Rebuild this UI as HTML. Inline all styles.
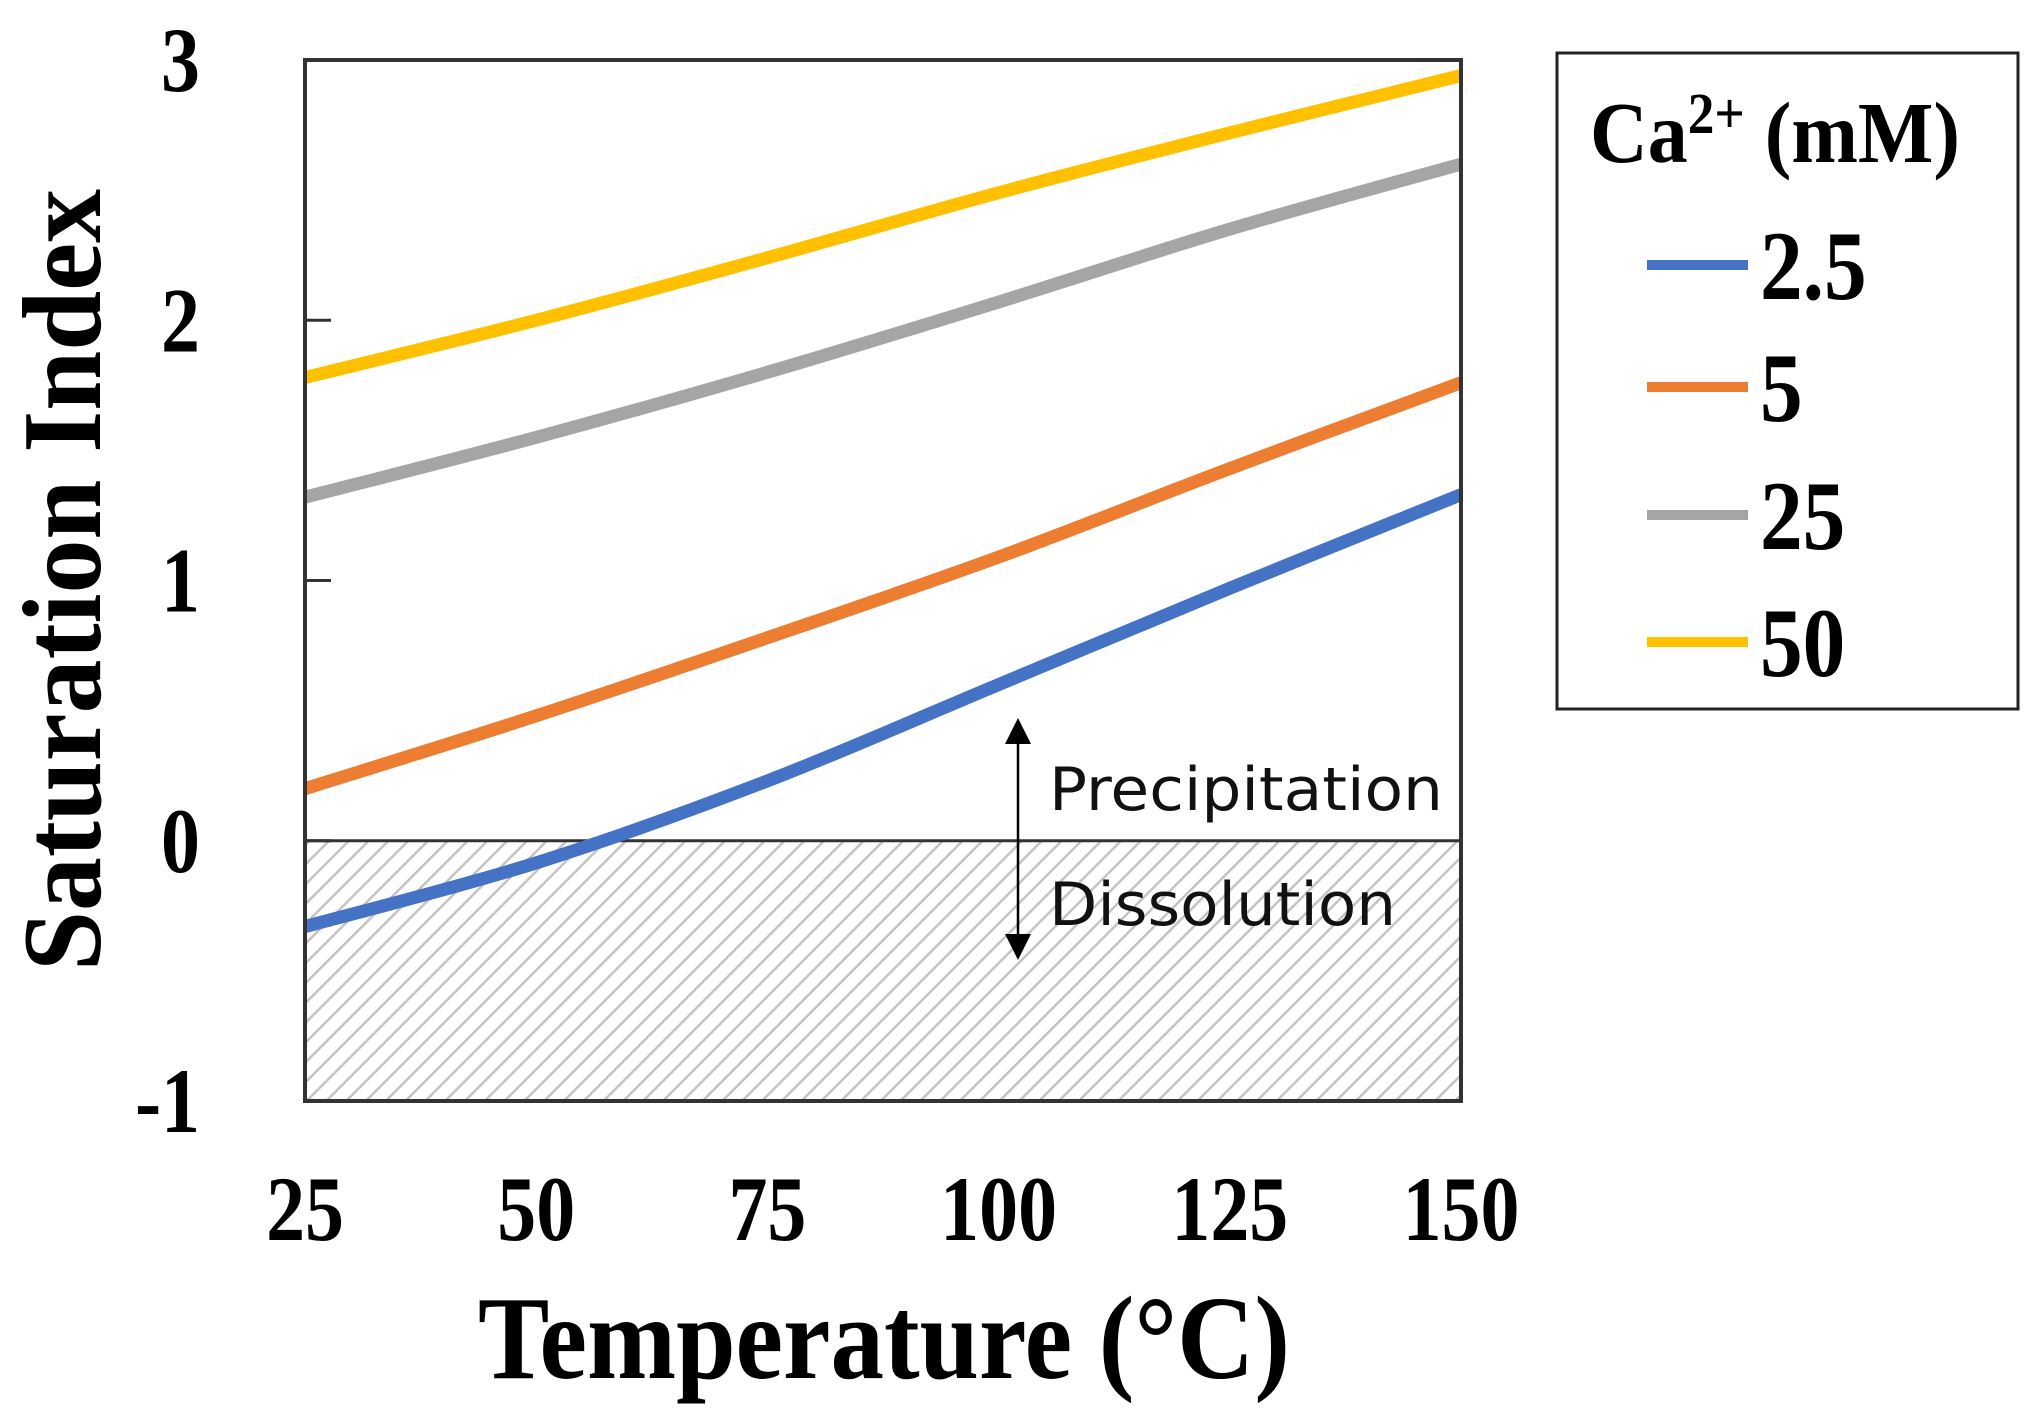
<!DOCTYPE html>
<html><head><meta charset="utf-8"><style>
html,body{margin:0;padding:0;background:#fff;}
svg{display:block;}
</style></head><body>
<svg id="chart" width="2043" height="1420" viewBox="0 0 2043 1420" xmlns="http://www.w3.org/2000/svg">
<defs>
<pattern id="hatch" patternUnits="userSpaceOnUse" width="14" height="14" patternTransform="rotate(45)">
<rect width="14" height="14" fill="#fff"/>
<line x1="0" y1="0" x2="0" y2="14" stroke="#c4c4c4" stroke-width="5"/>
</pattern>
</defs>
<g id="plot"></g>
</svg>
<script>
const xValues = [25, 50, 75, 100, 125, 150];
const seriesNames = ["2.5", "5", "25", "50"];
const seriesBlue = [-0.33, -0.085, 0.23, 0.60, 0.97, 1.33];
const seriesOrange = [0.20, 0.48, 0.78, 1.09, 1.43, 1.76];
const seriesGray = [1.32, 1.55, 1.80, 2.07, 2.35, 2.60];
const seriesYellow = [1.78, 2.00, 2.24, 2.49, 2.72, 2.94];
const xTicks = [25, 50, 75, 100, 125, 150];
const yTicks = [-1, 0, 1, 2, 3];

const NS = "http://www.w3.org/2000/svg";
const L = 305, R = 1461, T = 60, B = 1101;
const xMin = 25, xMax = 150, yMin = -1, yMax = 3;
function xs(v){ return L + (v - xMin) / (xMax - xMin) * (R - L); }
function ys(v){ return B - (v - yMin) / (yMax - yMin) * (B - T); }
const g = document.getElementById('plot');
function el(tag, attrs, parent){
  const e = document.createElementNS(NS, tag);
  for (const k in attrs) e.setAttribute(k, attrs[k]);
  (parent || g).appendChild(e);
  return e;
}

const hatch = el('rect', {x: L, y: ys(0), width: R - L, height: ys(yMin) - ys(0), fill: 'url(#hatch)'});



const zl = el('line', {x1: L, x2: R, y1: ys(0), y2: ys(0), stroke: '#333', 'stroke-width': 3});



function smoothPath(xv, yv){
  const p = xv.map((x, i) => [xs(x), ys(yv[i])]);
  let d = 'M' + p[0][0] + ',' + p[0][1];
  for (let i = 0; i < p.length - 1; i++){
    const p0 = p[i - 1] || p[i], p1 = p[i], p2 = p[i + 1], p3 = p[i + 2] || p2;
    const c1 = [p1[0] + (p2[0] - p0[0]) / 6, p1[1] + (p2[1] - p0[1]) / 6];
    const c2 = [p2[0] - (p3[0] - p1[0]) / 6, p2[1] - (p3[1] - p1[1]) / 6];
    d += ' C' + c1 + ' ' + c2 + ' ' + p2;
  }
  return d;
}
const allSeries = [seriesBlue, seriesOrange, seriesGray, seriesYellow];
const colors = ['#4472C4', '#ED7D31', '#A5A5A5', '#FFC000'];
const lineNames = ['line-2-5mm', 'line-5mm', 'line-25mm', 'line-50mm'];
allSeries.forEach((s, i) => {
  const p = el('path', {d: smoothPath(xValues, s), fill: 'none', stroke: colors[i], 'stroke-width': 13, 'stroke-linecap': 'butt'});
  
  
});

const frame = el('rect', {x: L, y: T, width: R - L, height: B - T, fill: 'none', stroke: '#333', 'stroke-width': 4});



const arr = el('line', {x1: 1018, x2: 1018, y1: 735, y2: 945, stroke: '#000', 'stroke-width': 2.5});


el('polygon', {points: '1018,718 1005,744 1031,744', fill: '#000'});
el('polygon', {points: '1018,960 1005,934 1031,934', fill: '#000'});
const t1 = el('text', {x: 1049, y: 810, 'font-family': 'DejaVu Sans, Liberation Sans, sans-serif', 'font-size': 60, textLength: 394, lengthAdjust: 'spacingAndGlyphs', fill: '#111'});
t1.textContent = 'Precipitation';


const t2 = el('text', {x: 1049, y: 925, 'font-family': 'DejaVu Sans, Liberation Sans, sans-serif', 'font-size': 60, textLength: 347, lengthAdjust: 'spacingAndGlyphs', fill: '#111'});
t2.textContent = 'Dissolution';



function tall(x, y){ return 'translate(' + x + ',' + y + ') scale(0.95,1.13)'; }
yTicks.forEach(v => {
  const t = el('text', {x: 0, y: 0, transform: tall(200, ys(v) + 31), 'text-anchor': 'end', 'font-family': 'Liberation Serif, serif', 'font-weight': 'bold', 'font-size': 82});
  t.textContent = String(v);
  
  
  if (v > yMin && v < yMax){
    const tk = el('line', {x1: L, x2: L + 26, y1: ys(v), y2: ys(v), stroke: '#333', 'stroke-width': 3});
    
    
  }
});
xTicks.forEach(v => {
  const t = el('text', {x: 0, y: 0, transform: tall(xs(v), 1240), 'text-anchor': 'middle', 'font-family': 'Liberation Serif, serif', 'font-weight': 'bold', 'font-size': 82});
  t.textContent = String(v);
  
  
});
const xt = el('text', {x: 0, y: 0, transform: 'translate(478,1378) scale(1,1.1)', 'font-family': 'Liberation Serif, serif', 'font-weight': 'bold', 'font-size': 108, textLength: 812, lengthAdjust: 'spacingAndGlyphs'});
xt.textContent = 'Temperature (°C)';


const yt = el('text', {x: 0, y: 0, transform: 'translate(100,580) rotate(-90) scale(1,1.08)', 'text-anchor': 'middle', 'font-family': 'Liberation Serif, serif', 'font-weight': 'bold', 'font-size': 104, textLength: 782, lengthAdjust: 'spacingAndGlyphs'});
yt.textContent = 'Saturation Index';



const lg = el('g', {});


el('rect', {x: 1557, y: 53, width: 461, height: 656, fill: '#fff', stroke: '#222', 'stroke-width': 3}, lg);
const lt = el('text', {x: 0, y: 0, transform: 'translate(1590,162) scale(1,1.12)', 'font-family': 'Liberation Serif, serif', 'font-weight': 'bold', 'font-size': 78, textLength: 370, lengthAdjust: 'spacingAndGlyphs'}, lg);
lt.innerHTML = 'Ca<tspan dy="-26" font-size="52">2+</tspan><tspan dy="26"> (mM)</tspan>';


const legY = [265, 387, 515, 642];
seriesNames.forEach((n, i) => {
  const ln = el('line', {x1: 1647, x2: 1748, y1: legY[i], y2: legY[i], stroke: colors[i], 'stroke-width': 10}, lg);
  
  
  const tx = el('text', {x: 0, y: 0, transform: 'translate(1760,' + (legY[i] + 34) + ') scale(0.97,1.12)', 'font-family': 'Liberation Serif, serif', 'font-weight': 'bold', 'font-size': 88}, lg);
  tx.textContent = n;
  
  
});
</script>
</body></html>
